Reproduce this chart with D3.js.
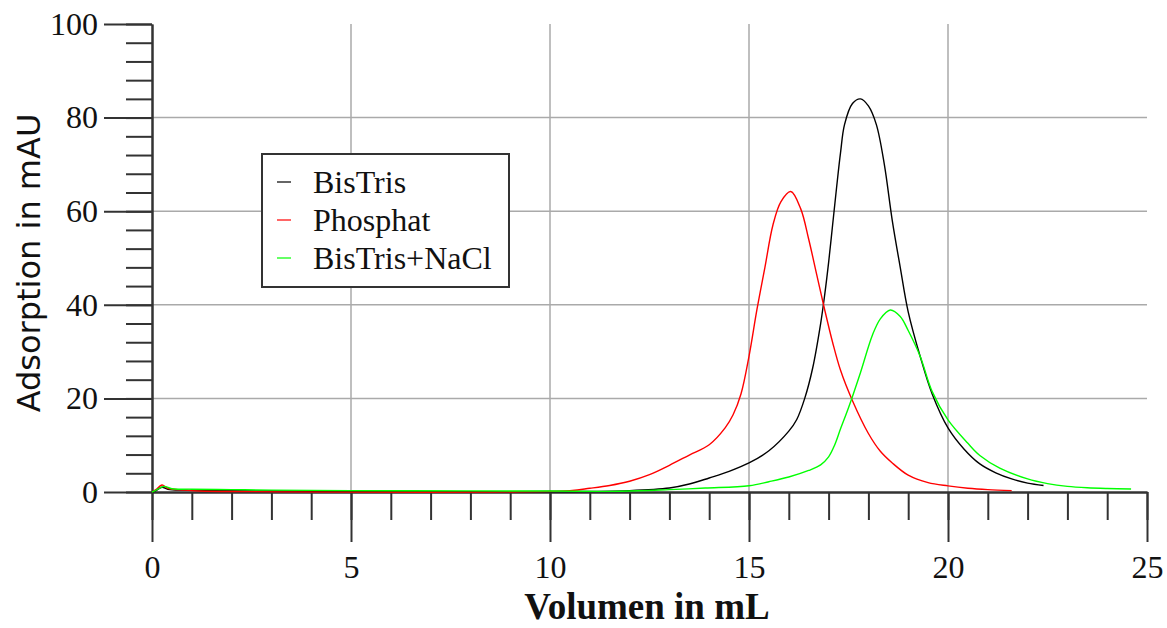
<!DOCTYPE html>
<html>
<head>
<meta charset="utf-8">
<script src="https://cdn.jsdelivr.net/npm/d3@7"></script>
<style>
  body { margin: 0; background: #fff; }
  svg { display: block; }
</style>
</head>
<body>
<svg id="chart" width="1167" height="628"></svg>
<script>
// series names + colours (legend order)
var seriesNames = ['BisTris', 'Phosphat', 'BisTris+NaCl'];
var seriesColors = ['#000000', '#ff0000', '#00ff00'];

// [volume mL, absorbance mAU]
var bisTris = [[0,0],[0.1,0.3],[0.25,1.0],[0.4,0.6],[0.8,0.4],[1.5,0.3],[3,0.2],[6,0.1],[10,0.1],[12,0.3],[13,0.85],
  [13.5,1.7],[14,3.0],[14.5,4.4],[15,6.2],[15.5,8.8],[16,13],[16.2,15.5],[16.4,20],[16.6,26.5],[16.8,36],[16.9,42],
  [17,49],[17.1,57],[17.2,65],[17.3,72.5],[17.4,78.5],[17.6,83],[17.8,84],[18,82.5],[18.2,78.5],[18.4,70],[18.6,58],
  [18.8,48],[19,38.5],[19.3,29],[19.6,21],[20,13.7],[20.4,9.2],[20.8,6],[21.2,4.1],[21.6,2.8],[22,1.9],[22.4,1.4]];

var phosphat = [[0,0],[0.1,0.5],[0.25,1.5],[0.4,0.8],[0.8,0.4],[1.2,0.2],[2,0.1],[10.5,0.3],[11,0.8],[11.5,1.4],
  [12,2.3],[12.5,3.7],[13,5.7],[13.5,7.9],[14,10.1],[14.4,13.7],[14.6,16.5],[14.8,21],[15,29],[15.2,39],[15.4,48],
  [15.6,57],[15.8,62],[16.05,64.2],[16.3,60.5],[16.5,54],[16.7,46.5],[16.9,39],[17.1,32],[17.3,26],[17.6,19.5],
  [18,12.5],[18.3,8.7],[18.6,6.2],[19,3.6],[19.5,2.0],[20,1.3],[20.5,0.8],[21,0.5],[21.6,0.3]];

var bisTrisNaCl = [[0,0],[0.1,0.4],[0.3,1.2],[0.5,0.7],[1,0.6],[2,0.5],[3,0.4],[5,0.3],[8,0.25],[10,0.2],[11.8,0.15],
  [13,0.5],[13.9,0.85],[15,1.35],[15.5,2.2],[16,3.2],[16.5,4.6],[16.8,5.8],[17,7.5],[17.15,10],[17.3,13.5],[17.5,18],
  [17.8,25.5],[18.1,33.5],[18.3,37],[18.55,38.9],[18.8,37.5],[19,34.5],[19.3,29],[19.6,21.5],[20,15.4],[20.5,10.4],
  [20.8,7.8],[21.3,5.1],[22,2.8],[22.5,1.8],[23,1.2],[23.5,0.9],[24,0.75],[24.6,0.65]];

var xMajorTicks = [0, 5, 10, 15, 20, 25];
var yMajorTicks = [0, 20, 40, 60, 80, 100];
var xLabel = 'Volumen in mL';
var yLabel = 'Adsorption in mAU';

var allSeries = [bisTris, phosphat, bisTrisNaCl];

var svg = d3.select('#chart'),
    MARGINS = {left: 152, right: 1147, top: 24, bottom: 492},
    xRange = d3.scaleLinear().domain([0, 25]).range([MARGINS.left, MARGINS.right]),
    yRange = d3.scaleLinear().domain([0, 100]).range([MARGINS.bottom, MARGINS.top]);

var serif = '"Liberation Serif", "Times New Roman", serif';

// grid lines
var grid = svg.append('g').attr('stroke', '#aaaaaa').attr('stroke-width', 1.5);
xMajorTicks.filter(function(d){ return d > 0 && d < 25; }).forEach(function(d){
    grid.append('line')
        .attr('x1', xRange(d)).attr('x2', xRange(d))
        .attr('y1', yRange(100)).attr('y2', yRange(0));
});
yMajorTicks.filter(function(d){ return d > 0 && d < 100; }).forEach(function(d){
    grid.append('line')
        .attr('x1', xRange(0)).attr('x2', xRange(25))
        .attr('y1', yRange(d)).attr('y2', yRange(d));
});

// minor ticks
svg.append('g')
    .attr('class', 'x minor')
    .attr('transform', 'translate(0,' + yRange(0) + ')')
    .call(d3.axisBottom(xRange).tickValues(d3.range(0, 26, 1)).tickSize(28).tickSizeOuter(0).tickFormat(''));
svg.append('g')
    .attr('class', 'y minor')
    .attr('transform', 'translate(' + xRange(0) + ',0)')
    .call(d3.axisLeft(yRange).tickValues(d3.range(0, 101, 4)).tickSize(26).tickSizeOuter(0).tickFormat(''));

// major ticks + labels
var xAxis = svg.append('g')
    .attr('class', 'x axis')
    .attr('transform', 'translate(0,' + yRange(0) + ')')
    .call(d3.axisBottom(xRange).tickValues(xMajorTicks).tickSize(50).tickSizeOuter(0).tickPadding(13).tickFormat(d3.format('d')));
var yAxis = svg.append('g')
    .attr('class', 'y axis')
    .attr('transform', 'translate(' + xRange(0) + ',0)')
    .call(d3.axisLeft(yRange).tickValues(yMajorTicks).tickSize(48).tickSizeOuter(0).tickPadding(6).tickFormat(d3.format('d')));

svg.selectAll('.axis, .minor').selectAll('line, path')
    .attr('stroke', '#333').attr('stroke-width', 2);
svg.selectAll('.axis text')
    .attr('font-family', serif).attr('font-size', 32).attr('fill', '#111');

// lines
var lineFunc = d3.line()
    .x(function(d){ return xRange(d[0]); })
    .y(function(d){ return yRange(d[1]); })
    .curve(d3.curveCatmullRom.alpha(0.5));

for (let h = 0; h < allSeries.length; h++){
    svg.append('path')
        .attr('d', lineFunc(allSeries[h]))
        .attr('stroke', seriesColors[h])
        .attr('stroke-width', 1.4)
        .attr('fill', 'none');
}

// axis titles
svg.append('text')
    .attr('x', 647).attr('y', 619)
    .attr('text-anchor', 'middle')
    .attr('font-family', serif).attr('font-weight', 'bold').attr('font-size', 37)
    .attr('fill', '#111')
    .text(xLabel);
svg.append('text')
    .attr('transform', 'translate(40,263) rotate(-90)')
    .attr('text-anchor', 'middle')
    .attr('font-family', '"DejaVu Sans", sans-serif').attr('font-size', 32)
    .attr('fill', '#111')
    .text(yLabel);

// legend
var legend = svg.append('g');
legend.append('rect')
    .attr('x', 262).attr('y', 154).attr('width', 247).attr('height', 133)
    .attr('fill', '#fff').attr('stroke', '#333').attr('stroke-width', 2);
seriesNames.forEach(function(name, i){
    var yy = 182 + i * 38;
    legend.append('line')
        .attr('x1', 277).attr('x2', 291).attr('y1', yy).attr('y2', yy)
        .attr('stroke', seriesColors[i]).attr('stroke-width', 1.2);
    legend.append('text')
        .attr('x', 313).attr('y', yy + 11)
        .attr('font-family', serif).attr('font-size', 32).attr('fill', '#111')
        .text(name);
});
</script>
</body>
</html>
